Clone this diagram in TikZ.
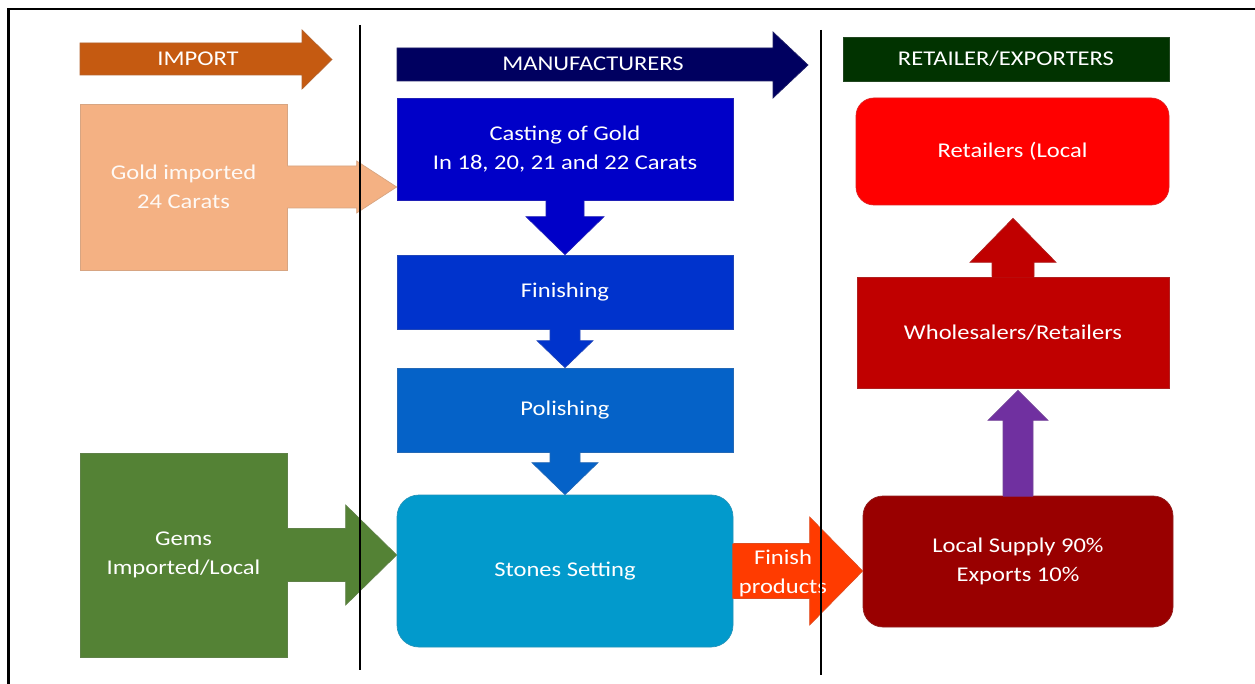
\documentclass[tikz,border=0pt]{standalone}
\usepackage{fontspec}
\setmainfont[FakeStretch=1.17]{Carlito}
\usetikzlibrary{calc}
\definecolor{cImport}{HTML}{C55A11}
\definecolor{cManuf}{HTML}{000060}
\definecolor{cRetHead}{HTML}{013300}
\definecolor{cGold}{HTML}{F4B183}
\definecolor{cCast}{HTML}{0000C8}
\definecolor{cFinish}{HTML}{0033CC}
\definecolor{cPolish}{HTML}{0562C8}
\definecolor{cStone}{HTML}{029ACC}
\definecolor{cGems}{HTML}{548235}
\definecolor{cProd}{HTML}{FF3B00}
\definecolor{cRetail}{HTML}{FF0000}
\definecolor{cWhole}{HTML}{C00000}
\definecolor{cPurple}{HTML}{7030A0}
\definecolor{cLocal}{HTML}{990000}
\tikzset{
  lbl/.style={text=white, font=\fontsize{21}{29}\selectfont, align=center, inner sep=0pt},
  box/.style={lbl, fill=#1, draw=#1!75!gray, line width=0.7pt},
  edge/.style={draw=#1!75!gray, line width=0.7pt},
  divider/.style={draw=black, line width=1.1pt},
}
% right block arrow: #1 colour, #2 start, #3 tip, #4 shaft half, #5 head half, #6 head length
\newcommand{\rarrow}[6]{%
  \fill[#1] let \p1=(#2), \p2=(#3) in (\x1-1pt,\y2+#4pt) -- (\x2-#6pt,\y2+#4pt) -- (\x2-#6pt,\y2+#5pt) -- (\x2,\y2) -- (\x2-#6pt,\y2-#5pt) -- (\x2-#6pt,\y2-#4pt) -- (\x1-1pt,\y2-#4pt) -- cycle;
  \draw[edge=#1] let \p1=(#2), \p2=(#3) in (\x1,\y2+#4pt) -- (\x2-#6pt,\y2+#4pt) -- (\x2-#6pt,\y2+#5pt) -- (\x2,\y2) -- (\x2-#6pt,\y2-#5pt) -- (\x2-#6pt,\y2-#4pt) -- (\x1,\y2-#4pt);}
\newcommand{\darrow}[6]{%
  \fill[#1] let \p1=(#2), \p2=(#3) in (\x2-#4pt,\y1+1pt) -- (\x2-#4pt,\y2+#6pt) -- (\x2-#5pt,\y2+#6pt) -- (\x2,\y2) -- (\x2+#5pt,\y2+#6pt) -- (\x2+#4pt,\y2+#6pt) -- (\x2+#4pt,\y1+1pt) -- cycle;
  \draw[edge=#1] let \p1=(#2), \p2=(#3) in (\x2-#4pt,\y1) -- (\x2-#4pt,\y2+#6pt) -- (\x2-#5pt,\y2+#6pt) -- (\x2,\y2) -- (\x2+#5pt,\y2+#6pt) -- (\x2+#4pt,\y2+#6pt) -- (\x2+#4pt,\y1);}
\newcommand{\uarrow}[6]{%
  \fill[#1] let \p1=(#2), \p2=(#3) in (\x2-#4pt,\y1-1pt) -- (\x2-#4pt,\y2-#6pt) -- (\x2-#5pt,\y2-#6pt) -- (\x2,\y2) -- (\x2+#5pt,\y2-#6pt) -- (\x2+#4pt,\y2-#6pt) -- (\x2+#4pt,\y1-1pt) -- cycle;
  \draw[edge=#1] let \p1=(#2), \p2=(#3) in (\x2-#4pt,\y1) -- (\x2-#4pt,\y2-#6pt) -- (\x2-#5pt,\y2-#6pt) -- (\x2,\y2) -- (\x2+#5pt,\y2-#6pt) -- (\x2+#4pt,\y2-#6pt) -- (\x2+#4pt,\y1);}
\begin{document}
\begin{tikzpicture}[x=1pt, y=-1pt]
\useasboundingbox (0,0) rectangle (1255,684);
\fill[white] (0,0) rectangle (1255,684);

% header arrows
\filldraw[fill=cImport, edge=cImport] (80,43) -- (302,43) -- (302,30) -- (332,59.5) -- (302,89) -- (302,75) -- (80,75) -- cycle;
\node[lbl] (importtxt) at (198,59) {IMPORT};
\filldraw[fill=cManuf, edge=cManuf] (397,48) -- (773,48) -- (773,32) -- (808,65) -- (773,98) -- (773,81) -- (397,81) -- cycle;
\node[lbl] (manuftxt) at (593,64) {MANUFACTURERS};
\node[box=cRetHead, minimum width=326pt, minimum height=44pt] (rethead) at (1006,59) {RETAILER/EXPORTERS};

% left column
\node[box=cGold, text=white!92!cGold, minimum width=207pt, minimum height=166pt] (gold) at (183.5,187) {Gold imported\\24 Carats};
\node[box=cGems, minimum width=207pt, minimum height=204pt] (gems) at (183.5,555) {Gems\\Imported/Local};

% middle column
\node[box=cCast, minimum width=336pt, minimum height=102pt] (cast) at (565,149) {Casting of Gold\\In 18, 20, 21 and 22 Carats};
\node[box=cFinish, minimum width=336pt, minimum height=74pt] (finish) at (565,292) {Finishing};
\node[box=cPolish, minimum width=336pt, minimum height=84pt] (polish) at (565,410) {Polishing};
\node[box=cStone, rounded corners=22pt, minimum width=336pt, minimum height=152pt] (stones) at (565,571) {Stones Setting};

% right column
\node[box=cRetail, rounded corners=18pt, minimum width=313pt, minimum height=107pt] (retail) at (1012.5,151.5) {Retailers (Local};
\node[box=cWhole, minimum width=312pt, minimum height=111pt] (whole) at (1013,332.5) {Wholesalers/Retailers};
\node[box=cLocal, rounded corners=20pt, minimum width=310pt, minimum height=131pt] (local) at (1018,561.5) {Local Supply 90\%\\Exports 10\%};

% block arrows
\rarrow{cGold}{gold.east}{cast.west |- gold.east}{21}{26}{40}
\rarrow{cGems}{gems.east}{stones.west |- gems.east}{26.5}{50}{51}
\rarrow{cProd}{stones.east}{local.west |- stones.east}{27.5}{54}{53}
\node[lbl] (prodtxt) at (783,573) {Finish\\products};
\darrow{cCast}{cast.south}{finish.north}{19}{39}{38}
\darrow{cFinish}{finish.south}{polish.north}{15}{28}{27}
\darrow{cPolish}{polish.south}{stones.north}{15}{33}{32}
\coordinate (uptip) at ($(retail.south)+(0.5,13)$);
\uarrow{cWhole}{whole.north}{uptip}{21}{43}{44}
\coordinate (purptip) at ($(local.north |- whole.south)+(0,2)$);
\uarrow{cPurple}{local.north}{purptip}{15}{30}{30}

% dividers and frame
\coordinate (d1t) at (360,25); \coordinate (d1b) at (360,670);
\coordinate (d2t) at (821,30); \coordinate (d2b) at (821,675);
\draw[divider] (d1t) -- (d1b);
\draw[divider] (d2t) -- (d2b);
\coordinate (fbl) at (8.5,686); \coordinate (ftl) at (8.5,9); \coordinate (ftr) at (1257,9);
\draw[line width=2.5pt] (fbl) -- (ftl) -- (ftr);
\end{tikzpicture}
\end{document}
